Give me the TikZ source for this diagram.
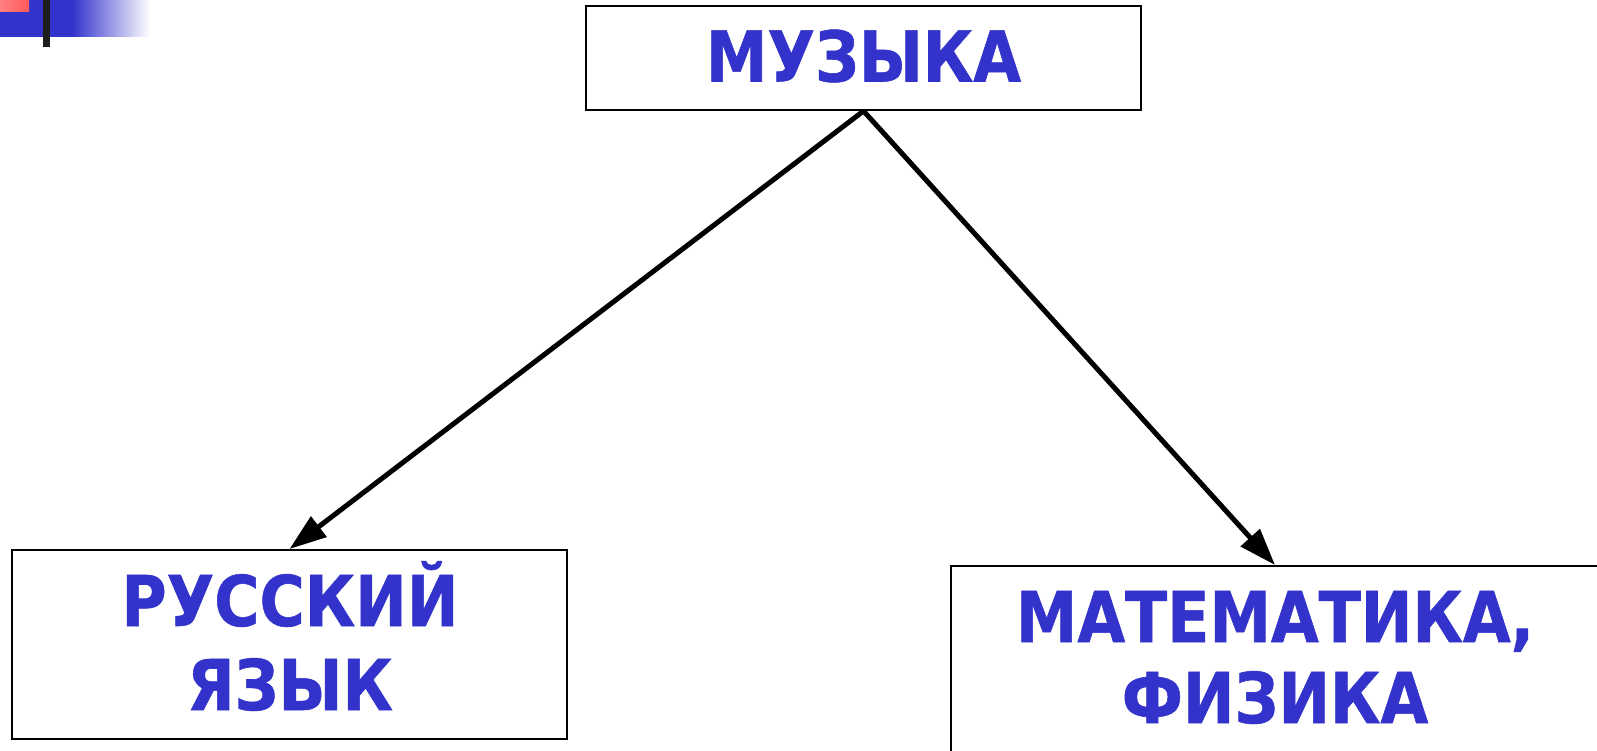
\documentclass[tikz,border=0pt]{standalone}
\usepackage{fontspec}
\newfontfamily\lblfont{DejaVu Sans Condensed}[BoldFont={DejaVu Sans Condensed Bold},BoldFeatures={FakeBold=0.8,FakeStretch=0.98}]
\usetikzlibrary{arrows.meta}
\definecolor{txtblue}{HTML}{3333CC}
\definecolor{pinkL}{HTML}{FF8080}
\definecolor{pinkR}{HTML}{FF5A5A}
\definecolor{barblack}{HTML}{1E1E1E}
\begin{document}
\begin{tikzpicture}[x=1pt,y=-1pt,
  box/.style={draw=black, line width=2pt, fill=white, inner sep=0pt},
  lbl/.style={text=txtblue, inner sep=0pt, font=\lblfont\bfseries\fontsize{70}{84}\selectfont},
  arr/.style={line width=5pt, -{Triangle[length=37pt,width=25pt]}}]
\useasboundingbox (0,0) rectangle (1597,751);
\clip (0,0) rectangle (1597,751);
\fill[white] (0,0) rectangle (1597,751);
% corner decoration
\fill[txtblue] (0,0) rectangle (72,37);
\shade[left color=txtblue, right color=white] (72,0) rectangle (150,37);
\shade[left color=pinkL, right color=pinkR] (0,0) rectangle (29,12);
\fill[barblack] (43,0) rectangle (50,47);
% boxes
\node[box, minimum width=555pt, minimum height=104pt] (music) at (863.5,58) {};
\node[box, minimum width=555pt, minimum height=189pt] (lbox) at (289.5,644.5) {};
\node[box, anchor=north west, minimum width=700pt, minimum height=250pt] (rbox) at (950,565) {};
% texts
\node[lbl, anchor=base] (musict) at (863.5,81.5) {МУЗЫКА};
\node[lbl, anchor=base] (lt1) at (290,626) {РУССКИЙ};
\node[lbl, anchor=base] (lt2) at (290,710) {ЯЗЫК};
\node[lbl, anchor=base] (rt1) at (1275,642) {МАТЕМАТИКА,};
\node[lbl, anchor=base] (rt2) at (1275,723) {ФИЗИКА};
% connectors
\coordinate (rin) at (1275,565);
\draw[arr] (music.south) -- (lbox.north);
\draw[arr] (music.south) -- (rin);
\end{tikzpicture}
\end{document}
